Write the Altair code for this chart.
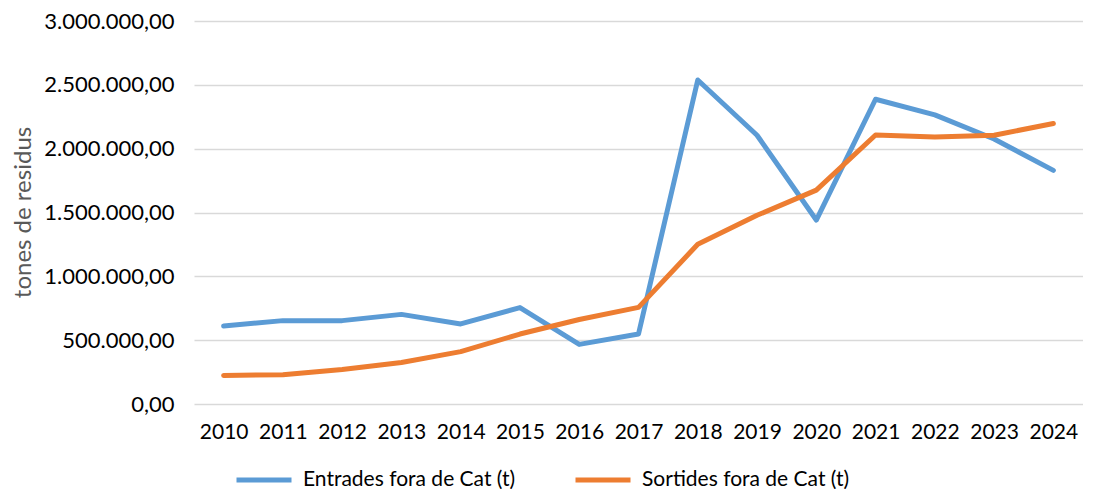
import altair as alt
import pandas as pd

years = [str(y) for y in range(2010, 2025)]
entrades = [611000, 653000, 653000, 702000, 627000, 755000, 467000, 548000,
            2538000, 2105000, 1441000, 2387000, 2265000, 2076000, 1830000]
sortides = [224000, 230000, 271000, 325000, 410000, 548000, 662000, 757000,
            1251000, 1478000, 1675000, 2107000, 2091000, 2105000, 2197000]
series_names = ["Entrades fora de Cat (t)", "Sortides fora de Cat (t)"]
series_colors = ["#5B9BD5", "#ED7D31"]
y_ticks = [0, 500000, 1000000, 1500000, 2000000, 2500000, 3000000]

rows = []
for i, y in enumerate(years):
    rows.append({"any": y, "serie": series_names[0], "valor": entrades[i], "ord": 0})
    rows.append({"any": y, "serie": series_names[1], "valor": sortides[i], "ord": 1})
df = pd.DataFrame(rows)

FONT = "Lato"
label_expr = ("replace(replace(replace(format(datum.value, ',.2f'), regexp(',', 'g'), '#'),"
              " regexp('\\\\.', 'g'), ','), regexp('#', 'g'), '.')")

chart = alt.Chart(df).mark_line(strokeWidth=5, strokeCap="round", strokeJoin="round").encode(
    x=alt.X("any:O", sort=years,
            scale=alt.Scale(type="point", padding=0.5),
            axis=alt.Axis(title=None, labelAngle=0, ticks=False, domain=False, grid=False,
                          labelFont=FONT, labelFontSize=21, labelColor="#000000",
                          labelPadding=17, labelBound=False)),
    y=alt.Y("valor:Q", scale=alt.Scale(domain=[0, 3000000], nice=False),
            axis=alt.Axis(title="tones de residus", values=y_ticks, labelExpr=label_expr,
                          ticks=False, domain=False, grid=True, gridColor="#D9D9D9",
                          gridWidth=1.3, labelFont=FONT, labelFontSize=22,
                          labelColor="#000000", labelPadding=20,
                          titleFont=FONT, titleFontSize=24, titleFontWeight="normal",
                          titleColor="#595959", titlePadding=0, titleX=-171,
                          titleY=191, titleAngle=270, titleBaseline="middle")),
    color=alt.Color("serie:N",
                    scale=alt.Scale(domain=series_names, range=series_colors),
                    legend=alt.Legend(title=None, orient="none", direction="horizontal",
                                      legendX=40, legendY=429,
                                      symbolType="stroke", symbolSize=3025,
                                      symbolStrokeWidth=5, labelFont=FONT,
                                      labelFontSize=21, labelColor="#000000",
                                      labelLimit=0, labelOffset=9, columnPadding=49)),
    order="ord:Q",
).properties(
    width=889, height=383,
    autosize=alt.AutoSizeParams(type="none"),
    padding={"left": 186, "top": 13, "right": 0, "bottom": 85},
).configure_view(stroke=None)

chart.save("out.html", embed_options={"renderer": "svg", "actions": False})
